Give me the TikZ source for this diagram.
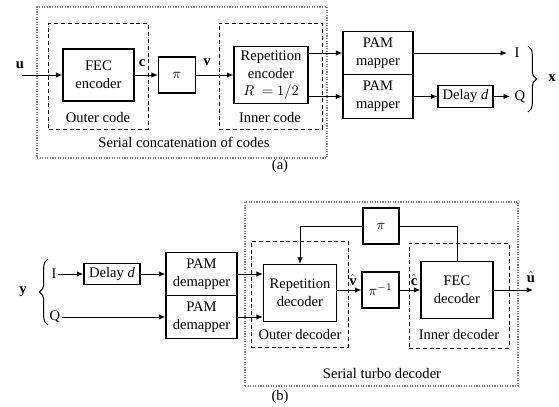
\documentclass[tikz,border=0pt]{standalone}
\usepackage{fontspec}
\setmainfont{Liberation Serif}
\usetikzlibrary{arrows.meta}
\usetikzlibrary{positioning}
\usetikzlibrary{decorations.pathreplacing}

\tikzset{
  blk/.style={draw, line width=0.9pt, align=center, inner sep=1pt},
  grp/.style={draw, dash pattern=on 2.8pt off 2pt, line width=0.7pt, inner sep=0pt},
  sys/.style={draw, gray, densely dotted, line width=0.8pt, inner sep=0pt},
  lbl/.style={inner sep=1pt},
  brc/.style={decorate, decoration={brace, amplitude=6pt}, line width=0.7pt},
}

\begin{document}
\begin{tikzpicture}[x=0.7pt, y=-0.7pt, >={Latex[length=4.5pt,width=3.8pt]}, line width=0.7pt,
    font=\fontsize{10.2}{12.5}\selectfont]
  \useasboundingbox (0,0) rectangle (559,406);

  % (a) serial concatenation
  \node (enc) [sys, minimum width=203pt, minimum height=105.7pt] at (182,82.5) {};
  \node (outc) [grp, minimum width=69.3pt, minimum height=74.2pt] at (98.5,76) {};
  \node (innc) [grp, minimum width=72.1pt, minimum height=74.2pt] at (270.5,76) {};

  \node (fecenc) [blk, minimum width=49.7pt, minimum height=36.4pt] at (98.5,75) {FEC\\encoder};
  \node (pia) [blk, minimum width=25.9pt, minimum height=25.2pt] at (177,75) {$\pi$};
  \node (repenc) [blk, minimum width=51.8pt, minimum height=39.9pt] at (271,75) {Repetition\\encoder\\$R\;=1/2$};
  \node (mapi) [blk, minimum width=49pt, minimum height=30.5pt] at (378,53) {PAM\\mapper};
  \node (mapq) [blk, minimum width=49pt, minimum height=30.5pt] at (378,96.5) {PAM\\mapper};
  \node (dlya) [blk, minimum width=38.5pt, minimum height=15.4pt] at (465.5,96.5) {Delay \textit{d}};

  \node (u) [lbl] at (20,65) {\textbf{u}};
  \coordinate (uin) at (22,75);
  \node (c) [lbl] at (142,63) {\textbf{c}};
  \node (v) [lbl] at (207,62) {\textbf{v}};
  \node (xi) [lbl] at (517,53) {I};
  \node (xq) [lbl] at (520,96.5) {Q};
  \node (x) [lbl] at (552,78) {\textbf{x}};

  \node (outcl) [lbl] at (98,118) {Outer code};
  \node (inncl) [lbl] at (270,118) {Inner code};
  \node (encl) [lbl] at (184,142) {Serial concatenation of codes};
  \node (capa) [lbl] at (280,166) {(a)};

  \draw [->] (uin) -- (fecenc.west);
  \draw [->] (fecenc) -- (pia);
  \draw [->] (pia) -- (repenc);
  \draw [->] (repenc.east |- mapi) -- (mapi);
  \draw [->] (repenc.east |- mapq) -- (mapq);
  \draw [->, shorten >=4pt] (mapi) -- (xi);
  \draw [->] (mapq) -- (dlya);
  \draw [->, shorten >=2pt] (dlya) -- (xq);
  \draw [brc] (528,46) -- (528,112);

  % (b) serial turbo decoder
  \node (dec) [sys, minimum width=191.1pt, minimum height=128.8pt] at (381.5,294) {};
  \node (outd) [grp, minimum width=67.9pt, minimum height=74.2pt] at (299.5,294) {};
  \node (innd) [grp, minimum width=70pt, minimum height=73.5pt] at (459,295.5) {};

  \node (dlyb) [blk, minimum width=39.2pt, minimum height=14.7pt] at (112,274) {Delay \textit{d}};
  \node (demi) [blk, minimum width=49.7pt, minimum height=30.1pt] at (201.5,274) {PAM\\demapper};
  \node (demq) [blk, minimum width=49.7pt, minimum height=30.1pt] at (201.5,317) {PAM\\demapper};
  \node (repdec) [blk, minimum width=51.1pt, minimum height=39.9pt] at (300,293) {Repetition\\decoder};
  \node (pib) [blk, minimum width=25.2pt, minimum height=25.2pt] at (381,226) {$\pi$};
  \node (piinv) [blk, minimum width=25.9pt, minimum height=25.2pt] at (380.5,290) {$\pi^{-1}$};
  \node (fecdec) [blk, minimum width=50.4pt, minimum height=39.9pt] at (457,290) {FEC\\decoder};

  \node (y) [lbl] at (23,292) {\textbf{y}};
  \node (yi) [lbl] at (54,274) {I};
  \node (yq) [lbl] at (55,317) {Q};
  \node (vh) [lbl] at (353,280) {$\hat{\textbf{v}}$};
  \node (ch) [lbl] at (414,280) {$\hat{\textbf{c}}$};
  \node (uh) [lbl] at (531,277) {$\hat{\textbf{u}}$};
  \coordinate (uout) at (533,290);

  \node (outdl) [lbl] at (300,335) {Outer decoder};
  \node (inndl) [lbl] at (459,335) {Inner decoder};
  \node (decl) [lbl] at (382,374) {Serial turbo decoder};
  \node (capb) [lbl] at (280,397) {(b)};

  \draw [brc] (48,325) -- (48,259);
  \draw [->] (yi) -- (dlyb);
  \draw [->] (dlyb) -- (demi);
  \draw [->] (yq) -- (demq);
  \draw [->] (demi.east) -- (demi.east -| repdec.west);
  \draw [->] (demq.east) -- (demq.east -| repdec.west);
  \draw [->] (repdec.east |- piinv) -- (piinv);
  \draw [->] (piinv) -- (fecdec);
  \draw [->] (fecdec) -- (uout);
  \draw (fecdec.north) |- (pib.east);
  \draw [->] (pib.west) -| (repdec.north);
\end{tikzpicture}
\end{document}
